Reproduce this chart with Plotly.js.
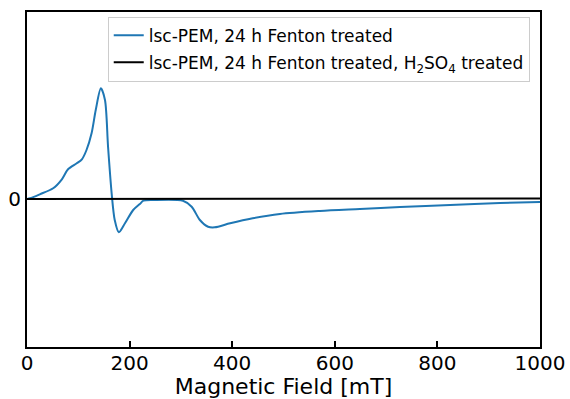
<!DOCTYPE html>
<html>
<head>
<meta charset="utf-8">
<script src="https://cdn.plot.ly/plotly-3.0.1.min.js"></script>
<style>html,body{margin:0;padding:0;background:#fff;}#chart{width:570px;height:399px;}</style>
</head>
<body>
<div id="chart"></div>
<script>
const fieldFenton = [0, 6, 25, 51, 68, 80, 97, 107, 116, 126, 134, 144, 152, 158, 165, 171, 179, 191, 207, 220, 227, 246, 304, 321, 337, 353, 366, 396, 440, 493, 571, 649, 727, 825, 922, 1000];
const signalFenton = [0, 0.7, 4.7, 10.7, 19.7, 29.7, 35.7, 39.7, 49, 66, 89, 110.7, 99, 52.3, 5.7, -21, -33.3, -24.3, -11, -5, -1.7, -1, -1.7, -7.7, -21, -27.7, -28.3, -24.3, -19.3, -15, -12, -10, -8, -6, -4, -3];
const fieldAcid = [0, 200, 400, 600, 800, 1000];
const signalAcid = [0, 0.2, 0.3, 0.3, 0.4, 0.5];
const xTicks = [0, 200, 400, 600, 800, 1000];
const yTicks = [0];
const seriesNames = ["lsc-PEM, 24 h Fenton treated", "lsc-PEM, 24 h Fenton treated, H<sub>2</sub>SO<sub>4</sub> treated"];

const font = "DejaVu Sans, sans-serif";
const data = [
  {x: fieldFenton, y: signalFenton, type: "scatter", mode: "lines", name: seriesNames[0], legendgroup: "a",
   line: {color: "#1f77b4", width: 2, shape: "spline", smoothing: 0.8}},
  {x: fieldAcid, y: signalAcid, type: "scatter", mode: "lines", name: seriesNames[1], legendgroup: "b",
   line: {color: "#000000", width: 2}}
];
const layout = {
  width: 570, height: 399,
  margin: {l: 27, r: 30, t: 12, b: 52},
  paper_bgcolor: "#fff", plot_bgcolor: "#fff",
  showlegend: true,
  legend: {x: 0.98, y: 0.986, xanchor: "right", yanchor: "top",
    bgcolor: "rgba(255,255,255,0.9)", bordercolor: "#cccccc", borderwidth: 1,
    font: {family: font, size: 17, color: "#000"}, tracegroupgap: 2, traceorder: "grouped"},
  xaxis: {range: [0, 1000], tickvals: xTicks, ticktext: xTicks.map(String),
    ticks: "inside", ticklen: 6, tickwidth: 2, tickcolor: "#000",
    showline: true, linecolor: "#000", linewidth: 2, mirror: true,
    showgrid: false, zeroline: false, ticklabelstandoff: -3,
    tickfont: {family: font, size: 20, color: "#000"},
    title: {text: "Magnetic Field [mT]", font: {family: font, size: 22, color: "#000"}, standoff: 3}},
  yaxis: {range: [-148, 187], tickvals: yTicks, ticktext: ["0"],
    ticks: "inside", ticklen: 6, tickwidth: 2, tickcolor: "#000",
    showline: true, linecolor: "#000", linewidth: 2, mirror: true,
    showgrid: false, zeroline: false,
    tickfont: {family: font, size: 20, color: "#000"}}
};
Plotly.newPlot("chart", data, layout, {displayModeBar: false, staticPlot: true});
</script>
</body>
</html>
